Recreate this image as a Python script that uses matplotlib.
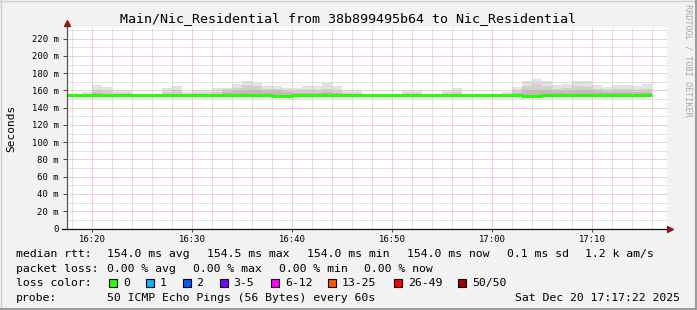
import numpy as np
import pandas as pd
import matplotlib
matplotlib.use('Agg')
import matplotlib.pyplot as plt
from matplotlib.lines import Line2D
from matplotlib.patches import Rectangle

# one sample per minute, 16:17 .. 17:15 (ms)
minutes = pd.date_range('2025-12-20 16:17', periods=59, freq='min')

median_rtt = [154.2, 154.2, 154.2, 154.2, 154.2, 154.2, 154.2, 154.2, 154.2, 154.2,
              154.2, 154.2, 154.2, 154.2, 154.2, 154.2, 154.4, 154.4, 154.4, 154.4,
              154.4, 154.0, 154.0, 154.2, 154.2, 154.2, 154.2, 154.2, 154.2, 154.2,
              154.2, 154.2, 154.2, 154.2, 154.2, 154.2, 154.2, 154.2, 154.2, 154.2,
              154.2, 154.2, 154.2, 154.2, 154.2, 154.2, 154.0, 154.0, 154.3, 154.3,
              154.3, 154.3, 154.3, 154.3, 154.3, 154.3, 154.3, 154.3, 154.3]

smoke_top = [155.0, 155.0, 158.6, 166.0, 164.0, 160.0, 160.0, 155.0, 155.0, 155.0,
             162.5, 165.0, 158.6, 160.0, 160.0, 162.4, 163.0, 167.5, 171.4, 169.0,
             165.0, 165.0, 163.3, 163.3, 165.0, 165.0, 168.7, 165.0, 160.6, 160.6,
             155.0, 155.0, 155.0, 155.0, 160.5, 160.5, 155.0, 155.0, 160.6, 162.4,
             155.0, 155.0, 155.0, 155.0, 158.6, 163.7, 170.5, 173.3, 171.0, 166.2,
             167.8, 171.0, 171.0, 166.5, 164.0, 166.6, 166.6, 165.0, 167.8]

smoke_mid = [155, 155, 156, 160, 159, 157, 157, 155, 155, 155,
             158, 160, 156, 157, 157, 158, 162, 163, 166, 165,
             162, 162, 161, 160, 160, 161, 162, 160, 157, 157,
             155, 155, 155, 155, 157, 157, 155, 155, 157, 158,
             155, 155, 155, 155, 156, 160, 165, 167, 165, 162,
             163, 165, 164, 162, 161, 162, 162, 161, 162]

smoke_core = [155, 155, 155, 157, 156.5, 155, 155, 155, 155, 155,
              155, 156.5, 155, 155, 155, 156, 158, 159, 160, 160,
              159, 159, 158, 157, 157, 157, 158, 157, 155, 155,
              155, 155, 155, 155, 155, 155, 155, 155, 155, 155,
              155, 155, 155, 155, 155, 157, 160, 161, 160, 159,
              159, 160, 160, 159, 158, 158, 158, 158, 158]

y_ticks = [0, 20, 40, 60, 80, 100, 120, 140, 160, 180, 200, 220]
y_labels = ['0', '20 m', '40 m', '60 m', '80 m', '100 m', '120 m', '140 m',
            '160 m', '180 m', '200 m', '220 m']
x_ticks = [20, 30, 40, 50, 60, 70]
x_labels = ['16:20', '16:30', '16:40', '16:50', '17:00', '17:10']

loss_labels = ['0', '1', '2', '3-5', '6-12', '13-25', '26-49', '50/50']
loss_colors = ['#26ff00', '#00b8ff', '#0059ff', '#7e00ff', '#ff00ff', '#ff5500', '#ff0000', '#a10000']

W, H = 697, 310
MONO = 'DejaVu Sans Mono'


def fx(x):
    return x / W


def fy(y):
    return 1 - y / H


# minutes since 16:00, with a closing edge for the step plots
t = [(m.hour - 16) * 60 + m.minute for m in minutes]
t = t + [t[-1] + 1]


def ext(a):
    return list(a) + [a[-1]]


fig = plt.figure(figsize=(W / 100, H / 100), dpi=100)
fig.patch.set_facecolor('#f2f2f2')

ax = fig.add_axes([fx(66.5), fy(228.5), fx(667 - 66.5), (228.5 - 27) / H])
ax.set_facecolor('white')
ax.set_xlim(17.42, 77.47)
ax.set_ylim(0, 233.6)
for s in ax.spines.values():
    s.set_visible(False)

# smoke
med = ext(median_rtt)
ax.fill_between(t, med, ext(smoke_top), step='post', color='#e2e2e2', lw=0, zorder=1)
ax.fill_between(t, med, ext(smoke_mid), step='post', color='#d0d0d0', lw=0, zorder=1)
ax.fill_between(t, med, ext(smoke_core), step='post', color='#bcbcbc', lw=0, zorder=1)

# grid
dot = (0, (1, 1))
for v in range(10, 231, 10):
    if v % 20:
        ax.axhline(v, color='#c4c4c4', lw=0.72, ls=dot, zorder=2)
for v in range(18, 78, 2):
    if v % 10:
        ax.axvline(v, color='#c4c4c4', lw=0.72, ls=dot, zorder=2)
for v in y_ticks[1:]:
    ax.axhline(v, color='#f2a0a0', lw=0.72, ls=dot, zorder=2.1)
for v in x_ticks:
    ax.axvline(v, color='#f2a0a0', lw=0.72, ls=dot, zorder=2.1)

# median line
ax.step(t, med, where='post', color='#26ff00', lw=2.2, zorder=3, solid_capstyle='butt')

# ticks
ax.set_yticks(y_ticks)
ax.set_yticklabels(y_labels, fontfamily=MONO, fontsize=6.4)
ax.set_xticks(x_ticks)
ax.set_xticklabels(x_labels, fontfamily=MONO, fontsize=6.4)
ax.tick_params(axis='y', length=3, width=0.7, pad=2.5, color='#444444')
ax.tick_params(axis='x', length=2, width=0.7, pad=2.5, color='#444444')

# axes with arrows
fig.add_artist(Line2D([fx(66.5), fx(66.5)], [fy(228.5), fy(24)], color='#555555', lw=0.9))
fig.add_artist(Line2D([fx(62), fx(668)], [fy(228.5), fy(228.5)], color='#111111', lw=0.9))
fig.add_artist(Line2D([fx(66.5)], [fy(23)], marker='^', ms=4.5, color='#8b1a1a', lw=0))
fig.add_artist(Line2D([fx(670)], [fy(228.5)], marker='>', ms=4.5, color='#8b1a1a', lw=0))

# titles
fig.text(0.5, fy(19), 'Main/Nic_Residential from 38b899495b64 to Nic_Residential',
         ha='center', va='center', fontfamily=MONO, fontsize=9.6)
fig.text(fx(11), fy(128), 'Seconds', rotation=90, ha='center', va='center',
         fontfamily=MONO, fontsize=8)
fig.text(fx(688), fy(4), 'RRDTOOL / TOBI OETIKER', rotation=270, ha='center', va='top',
         fontfamily=MONO, fontsize=6.1, color='#a8a8a8')

# legend rows
fs = 8.25
row1 = [(16, 'median rtt:'), (107, '154.0 ms avg'), (207, '154.5 ms max'),
        (307, '154.0 ms min'), (407, '154.0 ms now'), (507, '0.1 ms sd'), (585, '1.2 k am/s')]
row2 = [(16, 'packet loss:'), (107, '0.00 % avg'), (193, '0.00 % max'),
        (279, '0.00 % min'), (364, '0.00 % now')]
for x, s in row1:
    fig.text(fx(x), fy(254), s, ha='left', va='center', fontfamily=MONO, fontsize=fs)
for x, s in row2:
    fig.text(fx(x), fy(268.5), s, ha='left', va='center', fontfamily=MONO, fontsize=fs)

fig.text(fx(16), fy(283), 'loss color:', ha='left', va='center', fontfamily=MONO, fontsize=fs)
box_x = [109, 145.5, 182.5, 219.5, 271, 328, 394, 458]
for bx, lab, col in zip(box_x, loss_labels, loss_colors):
    fig.add_artist(Rectangle((fx(bx), fy(287)), 8 / W, 8 / H, transform=fig.transFigure,
                             facecolor=col, edgecolor='black', lw=0.8))
    fig.text(fx(bx + 14), fy(283), lab, ha='left', va='center', fontfamily=MONO, fontsize=fs)

fig.text(fx(16), fy(298), 'probe:', ha='left', va='center', fontfamily=MONO, fontsize=fs)
fig.text(fx(107), fy(298), '50 ICMP Echo Pings (56 Bytes) every 60s', ha='left', va='center',
         fontfamily=MONO, fontsize=fs)
fig.text(fx(680), fy(298), 'Sat Dec 20 17:17:22 2025', ha='right', va='center',
         fontfamily=MONO, fontsize=fs)

# canvas frame
fig.add_artist(Line2D([0, 1], [fy(0.5), fy(0.5)], color='#d0d0d0', lw=1))
fig.add_artist(Line2D([fx(0.5), fx(0.5)], [0, 1], color='#d0d0d0', lw=1))
fig.add_artist(Line2D([0, 1], [fy(309), fy(309)], color='#9c9c9c', lw=1.5))
fig.add_artist(Line2D([fx(696), fx(696)], [0, 1], color='#9c9c9c', lw=1.5))

fig.savefig('out.png', dpi=100, facecolor=fig.get_facecolor())
